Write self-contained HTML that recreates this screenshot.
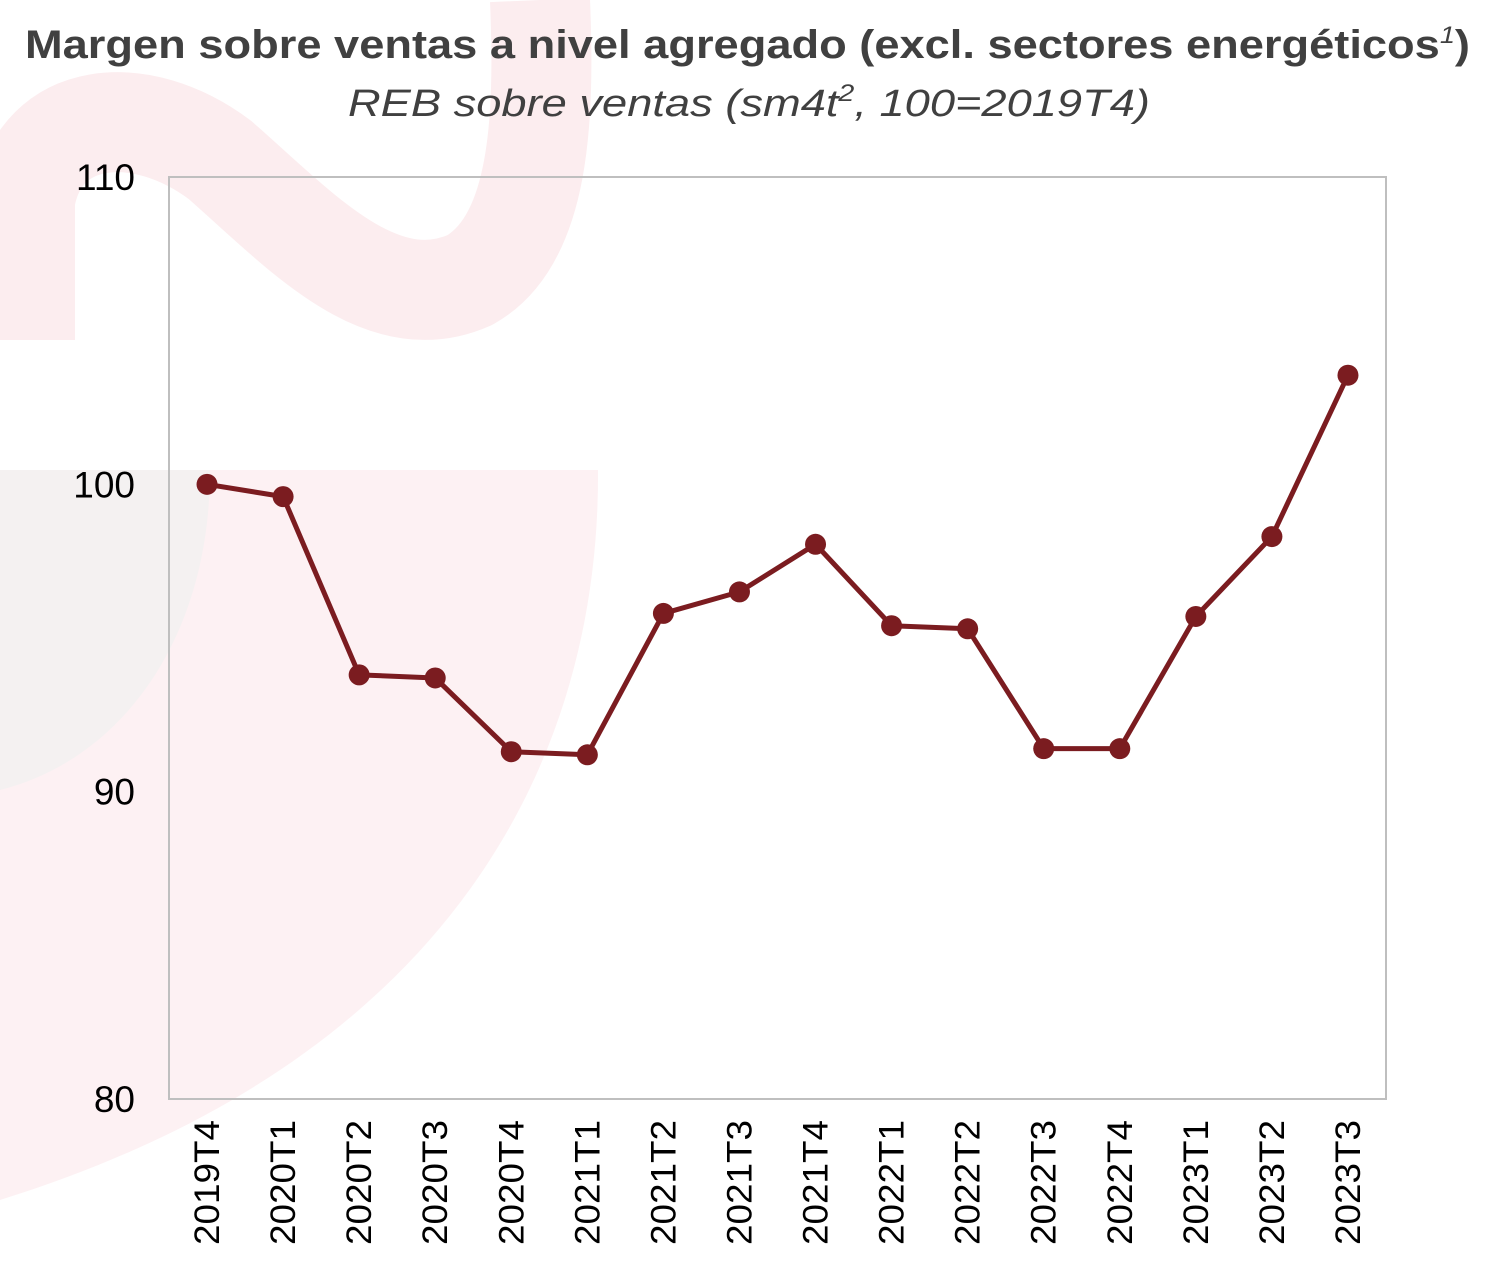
<!DOCTYPE html>
<html><head><meta charset="utf-8"><style>
html,body{margin:0;padding:0;background:#fff;}
svg{display:block;font-family:"Liberation Sans",sans-serif;}
</style></head><body>
<svg width="1500" height="1280" viewBox="0 0 1500 1280">
<g>
  <path d="M25,340 L25,200 C40,110 140,100 220,160 C300,230 380,320 470,280 C540,240 545,120 540,0" fill="none" stroke="#fcedef" stroke-width="100"/>
  <path d="M0,470 L598,470 C600,760 450,1060 0,1200 Z" fill="#fdf1f3"/>
  <path d="M0,470 L210,470 C210,640 120,760 0,790 Z" fill="#f4f1f1"/>
</g>
<text x="25" y="58" font-size="40" font-weight="bold" fill="#404040" textLength="1445" lengthAdjust="spacingAndGlyphs">Margen sobre ventas a nivel agregado (excl. sectores energéticos<tspan font-style="italic" font-weight="normal" font-size="24" dy="-15">1</tspan><tspan dy="15">)</tspan></text>
<text x="348" y="116" font-size="38" font-style="italic" fill="#404040" textLength="802" lengthAdjust="spacingAndGlyphs">REB sobre ventas (sm4t<tspan font-size="24" dy="-15">2</tspan><tspan dy="15">, 100=2019T4)</tspan></text>
<rect x="169" y="177" width="1217" height="922" fill="none" stroke="#bfbfbf" stroke-width="2"/>
<g id="yaxis"></g><g id="xaxis"></g><g id="series"></g>
</svg>
<script>
const categories=["2019T4","2020T1","2020T2","2020T3","2020T4","2021T1","2021T2","2021T3","2021T4","2022T1","2022T2","2022T3","2022T4","2023T1","2023T2","2023T3"];
const values=[100,99.6,93.8,93.7,91.3,91.2,95.8,96.5,98.05,95.4,95.3,91.4,91.4,95.7,98.3,103.55];
const yTicks=[80,90,100,110];
const NS="http://www.w3.org/2000/svg";
const L=169,R=1386,T=177,B=1099,yMin=80,yMax=110;
const y=v=>B-(v-yMin)/(yMax-yMin)*(B-T);
const step=(R-L)/categories.length;
const x=i=>L+step*(i+0.5);
function mk(tag,attrs,parent){const e=document.createElementNS(NS,tag);for(const k in attrs)e.setAttribute(k,attrs[k]);parent.appendChild(e);return e;}
const ya=document.getElementById('yaxis');
yTicks.forEach(t=>{const e=mk('text',{x:135,y:y(t)+13,'text-anchor':'end','font-size':37,fill:'#000'},ya);


e.textContent=t;});
const xa=document.getElementById('xaxis');
categories.forEach((c,i)=>{const e=mk('text',{transform:`translate(${x(i)+12},1120) rotate(-90)`,'text-anchor':'end','font-size':35,fill:'#000',textLength:125,lengthAdjust:'spacingAndGlyphs'},xa);


e.textContent=c;});
const s=document.getElementById('series');
const line=mk('polyline',{points:values.map((v,i)=>x(i)+','+y(v)).join(' '),fill:'none',stroke:'#7b1c20','stroke-width':5,'stroke-linejoin':'round'},s);


values.forEach((v,i)=>{const c=mk('circle',{cx:x(i),cy:y(v),r:10.5,fill:'#7b1c20'},s);

});
</script>
</body></html>
